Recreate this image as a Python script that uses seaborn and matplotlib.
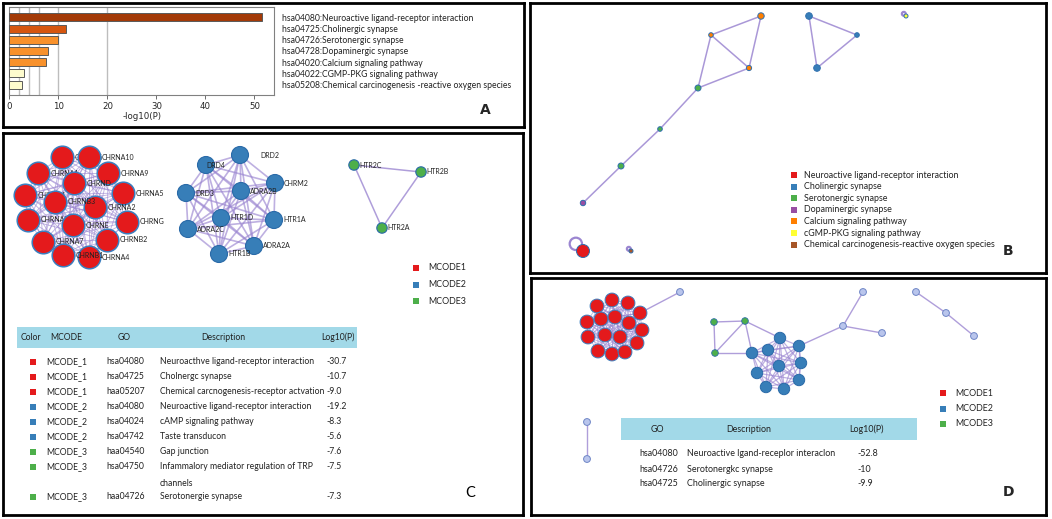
import numpy as np
import pandas as pd
import matplotlib
matplotlib.use("Agg")
import matplotlib.pyplot as plt
import seaborn as sns
from itertools import combinations
from matplotlib.collections import LineCollection

sns.set_theme(style="white")
plt.rcParams['font.family'] = ['Lato', 'DejaVu Sans']

# ---------------- data ----------------
# A: enriched KEGG terms
kegg_terms = ["hsa04080:Neuroactive ligand-receptor interaction",
              "hsa04725:Cholinergic synapse",
              "hsa04726:Serotonergic synapse",
              "hsa04728:Dopaminergic synapse",
              "hsa04020:Calcium signaling pathway",
              "hsa04022:CGMP-PKG signaling pathway",
              "hsa05208:Chemical carcinogenesis -reactive oxygen species"]
kegg_logp = [51.6, 11.6, 9.9, 7.8, 7.4, 2.9, 2.5]
kegg_colors = ["#a33a07", "#d6560f", "#f8912b", "#f8912b", "#f8912b", "#fdfbcd", "#fdfbcd"]
grid_at = [2, 4, 6, 10, 20]

set1 = sns.color_palette("Set1", 9).as_hex()
RED, BLUE, GREEN, PURPLE, ORANGE, YELLOW, BROWN = set1[:7]

# B: term network (layout coords inside panel)
b_terms = ["Neuroactive ligand-receptor interaction", "Cholinergic synapse", "Serotonergic synapse",
           "Dopaminergic synapse", "Calcium signaling pathway", "cGMP-PKG signaling pathway",
           "Chemical carcinogenesis-reactive oxygen species"]
b_colors = [RED, BLUE, GREEN, PURPLE, ORANGE, YELLOW, BROWN]
b_x = [231, 181, 219, 168, 130, 91, 53, 279, 327, 287, 376, 53, 101]
b_y = [13, 32, 65, 85, 126, 163, 200, 13, 32, 65, 13, 248, 248]
b_size = [3.2, 2.3, 2.6, 3.0, 2.3, 3.0, 2.7, 3.3, 2.3, 3.3, 2.0, 6.5, 2.0]
b_group = [4, 4, 4, 2, 2, 2, 3, 1, 1, 1, 5, 0, 6]
b_edges = [(0, 1), (0, 2), (1, 2), (1, 3), (2, 3), (3, 4), (4, 5), (5, 6), (7, 8), (7, 9), (8, 9)]
b_loops = [11, 12, 10]

# C: MCODE clusters
c1_genes = ["CHRNB4", "CHRNA3", "CHRNA6", "CHRNA1", "CHRNA10", "CHRNA9", "CHRND", "CHRNA5",
            "CHRNA2", "CHRNB3", "CHRNG", "CHRNE", "CHRNA7", "CHRNB2", "CHRNA4", "CHRNB1"]
c1_x = [22, 25, 59, 35, 86, 105, 71, 120, 92, 52, 124, 70, 40, 104, 86, 60]
c1_y = [62, 87, 24, 40, 24, 40, 50, 60, 74, 69, 89, 92, 109, 107, 124, 122]
c2_genes = ["DRD2", "DRD4", "CHRM2", "DRD3", "ADRA2B", "HTR1A", "HTR1D", "ADRA2C", "ADRA2A", "HTR1B"]
c2_x = [237, 203, 272, 183, 238, 271, 218, 185, 251, 216]
c2_y = [22, 32, 50, 60, 58, 87, 85, 96, 113, 121]
c2_label_dx = [20, 0, 9, 9, 9, 9, 9, 9, 9, 9]
c3_genes = ["HTR2C", "HTR2B", "HTR2A"]
c3_x = [351, 418, 379]
c3_y = [32, 39, 95]

mcode_names = ["MCODE1", "MCODE2", "MCODE3"]
mcode_colors = [RED, BLUE, GREEN]

tab_c_cols = ["Color", "MCODE", "GO", "Description", "Log10(P)"]
tab_c_mcode = ["MCODE_1", "MCODE_1", "MCODE_1", "MCODE_2", "MCODE_2", "MCODE_2", "MCODE_3", "MCODE_3", "MCODE_3"]
tab_c_go = ["hsa04080", "hsa04725", "haa05207", "hsa04080", "hsa04024", "hsa04742", "haa04540", "hsa04750", "haa04726"]
tab_c_desc = ["Neuroacthve ligand-receptor interaction", "Cholnergc synapse",
              "Chemical carcnogenesis-receptor actvation", "Neuroactive ligand-receptor interaction",
              "cAMP signaling pathway", "Taste transducon", "Gap junction",
              "Infammalory mediator regulation of TRP\nchannels", "Serotonergie synapse"]
tab_c_logp = ["-30.7", "-10.7", "-9.0", "-19.2", "-8.3", "-5.6", "-7.6", "-7.5", "-7.3"]

# D: merged network
d_red_x = [66, 81, 97, 109, 56, 70, 84, 98, 111, 57, 74, 89, 106, 67, 81, 94]
d_red_y = [28, 22, 25, 35, 44, 41, 39, 45, 52, 59, 57, 59, 65, 73, 76, 74]
d_green_x = [183, 214, 184]
d_green_y = [44, 43, 75]
d_blue_x = [249, 237, 221, 268, 248, 270, 226, 268, 235, 253]
d_blue_y = [60, 72, 75, 68, 88, 85, 95, 102, 109, 111]
d_other_x = [149, 332, 312, 351, 385, 415, 443, 56, 56]
d_other_y = [14, 14, 48, 55, 14, 35, 58, 144, 181]
d_other_edges = [(2, 1), (2, 3), (4, 5), (5, 6), (7, 8)]

tab_d_cols = ["GO", "Description", "Log10(P)"]
tab_d_go = ["hsa04080", "hsa04726", "hsa04725"]
tab_d_desc = ["Neuroactive lgand-receplor interaclon", "Serotonergkc synapse", "Cholinergic synapse"]
tab_d_logp = ["-52.8", "-10", "-9.9"]

# ---------------- figure ----------------
W, H = 1052, 519
fig = plt.figure(figsize=(W / 100, H / 100), dpi=100)
EDGE = "#9b86d1"
HEAD = "#a2d9e8"
TXT = "#222222"


def panel(x0, y0, x1, y1):
    ax = fig.add_axes([x0 / W, 1 - y1 / H, (x1 - x0) / W, (y1 - y0) / H])
    ax.set_xlim(0, x1 - x0)
    ax.set_ylim(y1 - y0, 0)
    ax.set_xticks([])
    ax.set_yticks([])
    for s in ax.spines.values():
        s.set_linewidth(2.0)
        s.set_color("black")
    return ax


def nodes(ax, xs, ys, r, fc, ec, lw=0.8, z=3):
    s = (2 * np.asarray(r, dtype=float) * 0.72) ** 2
    ax.scatter(xs, ys, s=s, c=fc, edgecolors=ec, linewidths=lw, zorder=z)


def edges(ax, xs, ys, pairs, color=EDGE, lw=1.0, alpha=0.8, z=2):
    segs = [[(xs[i], ys[i]), (xs[j], ys[j])] for i, j in pairs]
    ax.add_collection(LineCollection(segs, colors=color, linewidths=lw, alpha=alpha, zorder=z))


# ---- A ----
axA = panel(3, 3, 524, 127)
axA.text(482, 107, "A", fontsize=10, fontweight="bold", family="DejaVu Sans", ha="center", va="center")

axb = fig.add_axes([9.5 / W, 1 - 95 / H, (274 - 9.5) / W, (95 - 7) / H])
dfA = pd.DataFrame({"term": kegg_terms, "logp": kegg_logp})
sns.barplot(data=dfA, x="logp", y="term", hue="term", palette=kegg_colors, legend=False,
            saturation=1, width=0.72, edgecolor="#5a5a5a", linewidth=0.7, ax=axb, zorder=3)
for g in grid_at:
    axb.axvline(g, color="#bdbdbd", lw=1, zorder=1)
axb.set_xlim(0, 54)
axb.set_ylim(6.92, -0.92)
axb.set_xticks([0, 10, 20, 30, 40, 50])
axb.yaxis.tick_right()
axb.tick_params(axis="y", length=0, pad=5.5, labelsize=6.2, labelcolor=TXT)
axb.tick_params(axis="x", bottom=True, length=3, width=0.6, color="#555", labelsize=6.2, pad=2)
for lab in axb.get_xticklabels():
    lab.set_family("DejaVu Sans")
axb.set_ylabel("")
axb.set_xlabel("-log10(P)", fontsize=6.2, family="DejaVu Sans", labelpad=1)
for s in axb.spines.values():
    s.set_color("#808080")
    s.set_linewidth(0.8)

# ---- B ----
axB = panel(530, 3, 1046, 273)
edges(axB, b_x, b_y, b_edges, lw=1.1, alpha=0.85)
for k in b_loops:
    r = b_size[k]
    loop = plt.Circle((b_x[k] - 1.1 * r, b_y[k] - 1.1 * r), 0.95 * r, fill=False, ec=EDGE, lw=1.6, zorder=2)
    axB.add_patch(loop)
nodes(axB, b_x, b_y, b_size, [b_colors[g] for g in b_group], "#2f6fae", lw=0.7)
for i, (t, c) in enumerate(zip(b_terms, b_colors)):
    y = 172 + 11.6 * i
    axB.scatter([264], [y], marker="s", s=22, c=c, linewidths=0, zorder=3)
    axB.text(274, y, t, fontsize=6.4, color=TXT, va="center")
axB.text(478, 248, "B", fontsize=10, fontweight="bold", family="DejaVu Sans", ha="center", va="center")

# ---- C ----
axC = panel(3, 133, 523, 515)
edges(axC, c1_x, c1_y, combinations(range(len(c1_x)), 2), lw=0.7, alpha=0.6)
for i, g in enumerate(c1_genes):
    nodes(axC, [c1_x[i]], [c1_y[i]], [11.3], RED, "#3a7fc0", lw=1.1, z=3 + 2 * i)
    axC.text(c1_x[i] + 13, c1_y[i], g, fontsize=5, color=TXT, va="center", zorder=4 + 2 * i)
edges(axC, c2_x, c2_y, combinations(range(len(c2_x)), 2), lw=1.2, alpha=0.65)
nodes(axC, c2_x, c2_y, [8.5] * len(c2_x), BLUE, "#2a6aa8", lw=0.8, z=40)
for g, x, y, dx in zip(c2_genes, c2_x, c2_y, c2_label_dx):
    axC.text(x + dx, y, g, fontsize=5, color=TXT, va="center", zorder=41)
edges(axC, c3_x, c3_y, [(0, 1), (0, 2), (1, 2)], lw=1.1, alpha=0.8)
nodes(axC, c3_x, c3_y, [5.2] * 3, GREEN, "#2a6aa8", lw=0.8, z=40)
for g, x, y in zip(c3_genes, c3_x, c3_y):
    axC.text(x + 5, y, g, fontsize=5, color=TXT, va="center", zorder=41)
for i, (n, c) in enumerate(zip(mcode_names, mcode_colors)):
    y = 135 + 16.5 * i
    axC.scatter([413], [y], marker="s", s=20, c=c, linewidths=0, zorder=3)
    axC.text(425, y, n, fontsize=6.4, color=TXT, va="center")

# table C
axC.add_patch(plt.Rectangle((14, 194), 340, 21, fc=HEAD, ec="none", zorder=1))
for col, x in zip(tab_c_cols, [28, 63, 121, 220, 335]):
    axC.text(x, 204.5, col, fontsize=6.2, color=TXT, ha="center", va="center")
line = 0
for m, go, desc, lp in zip(tab_c_mcode, tab_c_go, tab_c_desc, tab_c_logp):
    y = 228.7 + 15 * line
    axC.scatter([29.7], [y], marker="s", s=18, c=mcode_colors[int(m[-1]) - 1], linewidths=0, zorder=3)
    axC.text(43, y, m, fontsize=6.2, color=TXT, va="center")
    axC.text(103.5, y, go, fontsize=6.2, color=TXT, va="center")
    axC.text(157, y - 4.5, desc, fontsize=6.2, color=TXT, va="top", linespacing=2.05)
    axC.text(323, y, lp, fontsize=6.2, color=TXT, va="center")
    line += desc.count("\n") + 1
axC.text(467, 360, "C", fontsize=10.5, color="black", ha="center", va="center")

# ---- D ----
axD = panel(531, 278, 1046, 515)
edges(axD, d_red_x, d_red_y, combinations(range(16), 2), lw=0.6, alpha=0.6)
edges(axD, d_blue_x, d_blue_y, combinations(range(10), 2), lw=0.9, alpha=0.65)
gx, gy = d_green_x, d_green_y
mix_x = gx + d_blue_x + d_other_x + d_red_x
mix_y = gy + d_blue_y + d_other_y + d_red_y
nb, no = 3 + 10, 3 + 10 + 9
mix_edges = [(0, 1), (0, 2), (1, 2), (2, 3 + 2), (1, 3 + 2), (1, 3 + 0),
             (3 + 3, nb + 2), (no + 3, nb + 0)] + [(nb + i, nb + j) for i, j in d_other_edges]
edges(axD, mix_x, mix_y, mix_edges, lw=1.0, alpha=0.8)
nodes(axD, d_red_x, d_red_y, [6.9] * 16, RED, "#3a7fc0", lw=0.7)
nodes(axD, d_blue_x, d_blue_y, [5.7] * 10, BLUE, "#2a6aa8", lw=0.7)
nodes(axD, gx, gy, [3.3] * 3, GREEN, "#2a6aa8", lw=0.6)
nodes(axD, d_other_x, d_other_y, [3.4] * 9, "#b9c5ec", "#6f86c6", lw=0.7)
for i, (n, c) in enumerate(zip(mcode_names, mcode_colors)):
    y = 115 + 15.5 * i
    axD.scatter([412], [y], marker="s", s=20, c=c, linewidths=0, zorder=3)
    axD.text(424, y, n, fontsize=6.4, color=TXT, va="center")
axD.add_patch(plt.Rectangle((90, 140), 296, 22, fc=HEAD, ec="none", zorder=1))
for col, x in zip(tab_d_cols, [126, 218, 335]):
    axD.text(x, 151, col, fontsize=6.4, color=TXT, ha="center", va="center")
for i, (go, desc, lp) in enumerate(zip(tab_d_go, tab_d_desc, tab_d_logp)):
    y = 176 + 15 * i
    axD.text(108, y, go, fontsize=6.4, color=TXT, va="center")
    axD.text(156, y, desc, fontsize=6.4, color=TXT, va="center")
    axD.text(326, y, lp, fontsize=6.4, color=TXT, va="center")
axD.text(477, 214, "D", fontsize=10, fontweight="bold", family="DejaVu Sans", ha="center", va="center")

fig.savefig("out.png", dpi=100, facecolor="white")
